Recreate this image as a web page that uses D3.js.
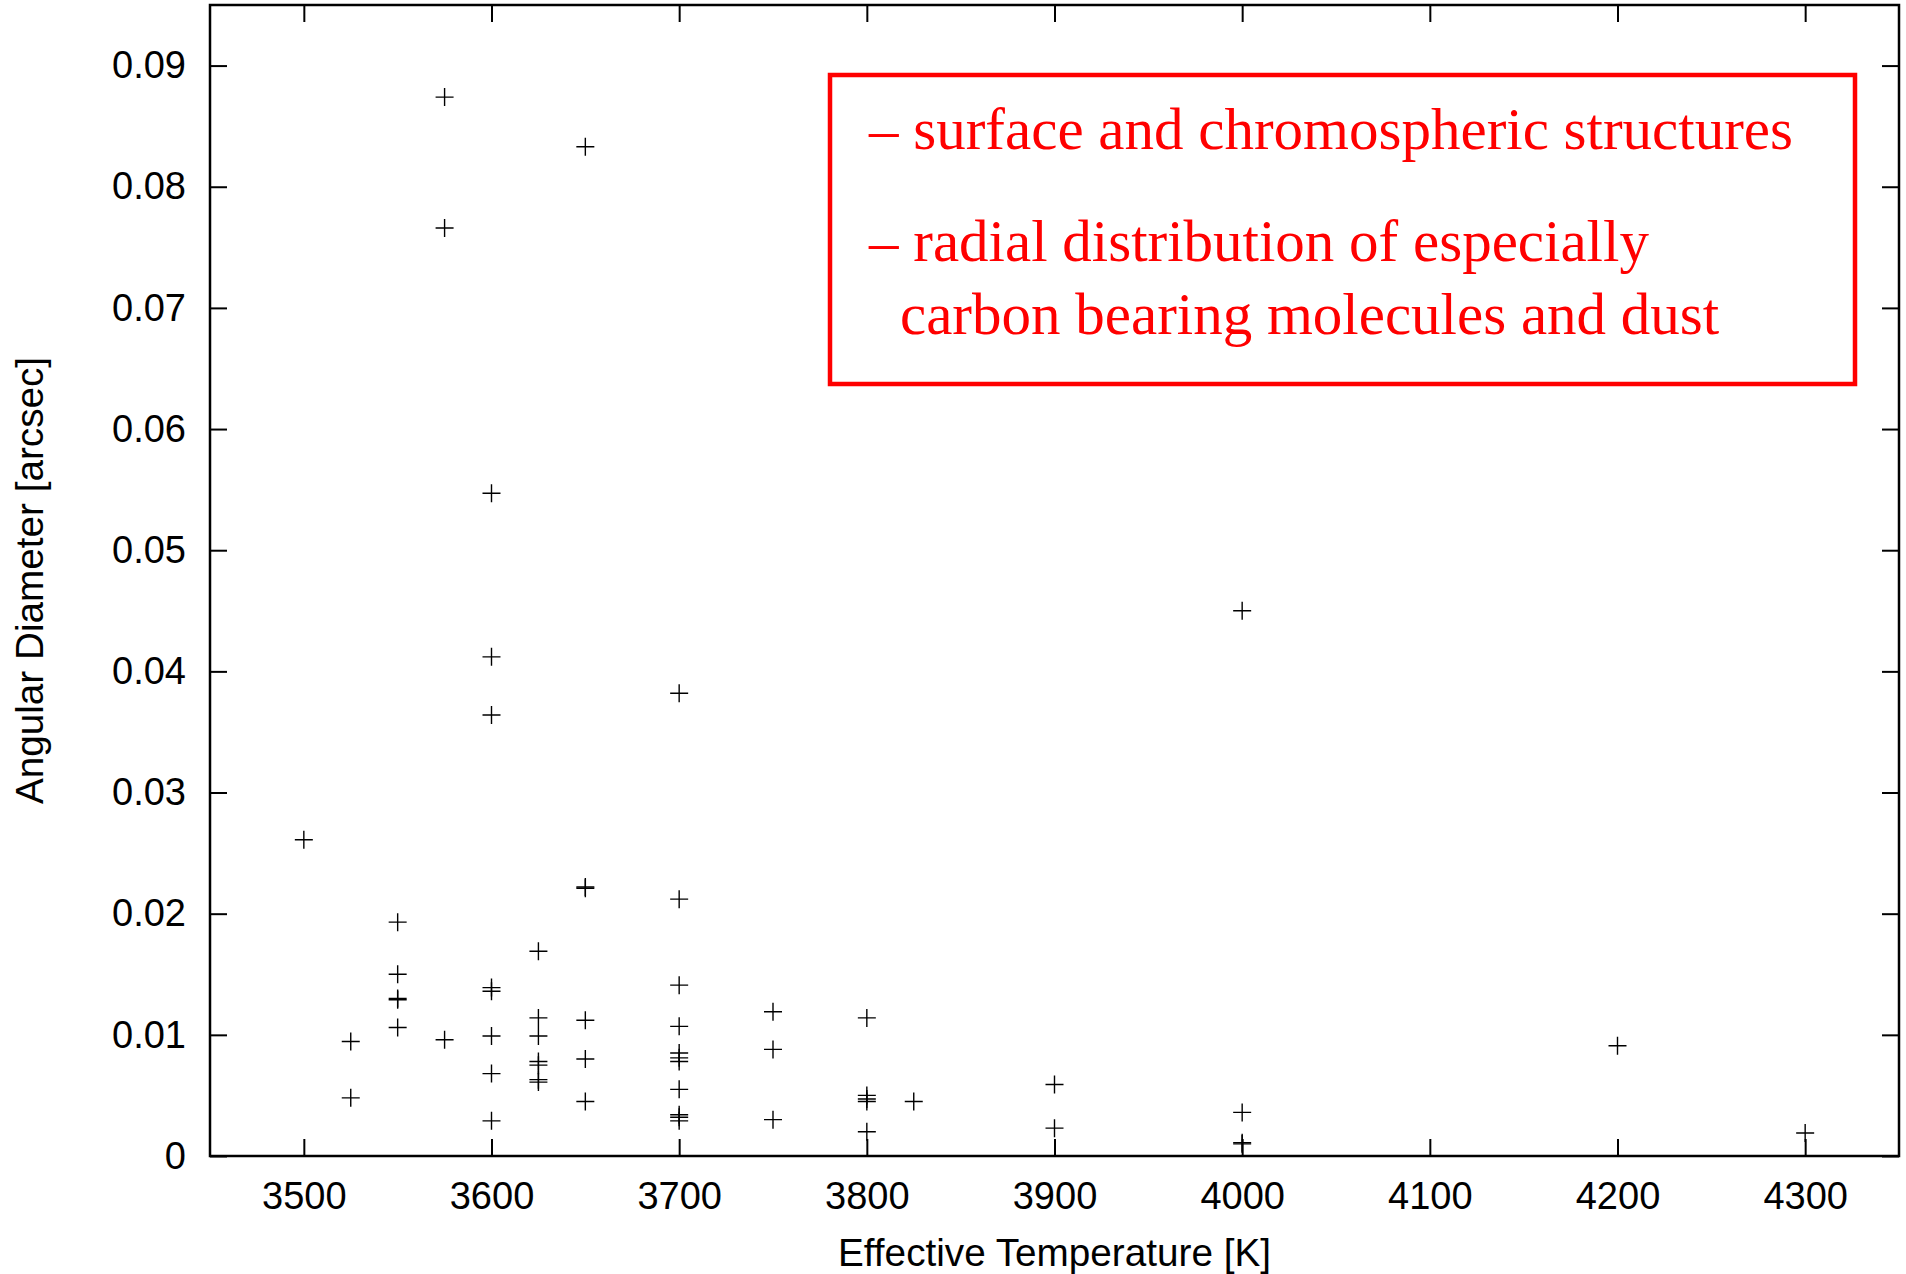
<!DOCTYPE html>
<html>
<head>
<meta charset="utf-8">
<script src="https://cdn.jsdelivr.net/npm/d3@7"></script>
<style>
    body { margin: 0; background: #fff; }
    svg { display: block; }
    .axis text { font-family: "Liberation Sans", Arial, sans-serif; font-size: 38px; fill: #000; }
    .axis path { display: none; }
    .axis line { stroke: #000; stroke-width: 2; }
    .title { font-family: "Liberation Sans", Arial, sans-serif; font-size: 38.7px; fill: #000; }
    .note { font-family: "Liberation Serif", "Times New Roman", serif; font-size: 59px; fill: #ff0000; }
</style>
</head>
<body>
<div id="wrapper"></div>
<script>
// data: effective temperature [K] and angular diameter [arcsec]
const temperatures = [
    3500,
    3525, 3525,
    3550, 3550, 3550, 3550, 3550,
    3575, 3575, 3575,
    3600, 3600, 3600, 3600, 3600, 3600, 3600, 3600,
    3625, 3625, 3625, 3625, 3625, 3625, 3625,
    3650, 3650, 3650, 3650, 3650, 3650,
    3700, 3700, 3700, 3700, 3700, 3700, 3700, 3700, 3700, 3700, 3700,
    3750, 3750, 3750,
    3800, 3800, 3800, 3800, 3800,
    3825,
    3900, 3900,
    4000, 4000, 4000, 4000,
    4200,
    4300,
]
const diameters = [
    0.0261,
    0.00945, 0.0048,
    0.0193, 0.0150, 0.0130, 0.0129, 0.0106,
    0.0874, 0.0766, 0.0096,
    0.0547, 0.0412, 0.0364, 0.0139, 0.0136, 0.0099, 0.0068, 0.0029,
    0.0169, 0.0114, 0.0099, 0.0078, 0.0075, 0.0063, 0.0061,
    0.0833, 0.0222, 0.0221, 0.0112, 0.0080, 0.0045,
    0.0382, 0.0212, 0.0141, 0.0107, 0.0085, 0.0081, 0.0078, 0.0055, 0.0034, 0.0032, 0.0029,
    0.0119, 0.0088, 0.0030,
    0.0114, 0.0050, 0.0047, 0.0045, 0.0020,
    0.0045,
    0.0059, 0.0023,
    0.0450, 0.0036, 0.0011, 0.0010,
    0.0091,
    0.0019,
]
const xTicks = [3500, 3600, 3700, 3800, 3900, 4000, 4100, 4200, 4300]
const yTicks = [0, 0.01, 0.02, 0.03, 0.04, 0.05, 0.06, 0.07, 0.08, 0.09]
const noteLines = [
    '– surface and chromospheric structures',
    '– radial distribution of especially',
    'carbon bearing molecules and dust',
]

const dataset = temperatures.map((t, i) => ({ t: t, d: diameters[i] }))

// 2. dimensions
let dimensions = {
    width: 1906,
    height: 1274,
    margin: { top: 5, right: 7, bottom: 118, left: 210 },
}
dimensions.boundedWidth = dimensions.width - dimensions.margin.left - dimensions.margin.right
dimensions.boundedHeight = dimensions.height - dimensions.margin.top - dimensions.margin.bottom

// 3. canvas
const wrapper = d3.select('#wrapper')
    .append('svg')
    .attr('width', dimensions.width)
    .attr('height', dimensions.height)

const bounds = wrapper.append('g')
    .attr('transform', `translate(${dimensions.margin.left},${dimensions.margin.top})`)

// 4. scales
const xScale = d3.scaleLinear()
    .domain([3450, 4350])
    .range([0, dimensions.boundedWidth])

const yScale = d3.scaleLinear()
    .domain([0, 0.095])
    .range([dimensions.boundedHeight, 0])

const tickLen = 17

// 6. axes (ticks point inward, mirrored on top and right)
bounds.append('g')
    .attr('class', 'axis')
    .attr('transform', `translate(0,${dimensions.boundedHeight})`)
    .call(d3.axisBottom(xScale).tickValues(xTicks).tickSize(-tickLen).tickPadding(26)
        .tickFormat(d3.format('d')))

bounds.append('g')
    .attr('class', 'axis')
    .call(d3.axisTop(xScale).tickValues(xTicks).tickSize(-tickLen).tickFormat(''))

bounds.append('g')
    .attr('class', 'axis')
    .call(d3.axisLeft(yScale).tickValues(yTicks).tickSize(-tickLen).tickPadding(24)
        .tickFormat(d => d === 0 ? '0' : d3.format('.2f')(d)))

bounds.append('g')
    .attr('class', 'axis')
    .attr('transform', `translate(${dimensions.boundedWidth},0)`)
    .call(d3.axisRight(yScale).tickValues(yTicks).tickSize(-tickLen).tickFormat(''))

bounds.append('rect')
    .attr('width', dimensions.boundedWidth)
    .attr('height', dimensions.boundedHeight)
    .attr('fill', 'none')
    .attr('stroke', '#000')
    .attr('stroke-width', 2.5)

// 5. points as gnuplot style "+"
const half = 9
bounds.append('g')
    .selectAll('path')
    .data(dataset)
    .join('path')
    .attr('transform', d => `translate(${xScale(d.t)},${yScale(d.d)})`)
    .attr('d', `M${-half},0H${half}M0,${-half}V${half}`)
    .attr('stroke', '#000')
    .attr('stroke-width', 1.4)
    .attr('fill', 'none')

// axis titles
wrapper.append('text')
    .attr('class', 'title')
    .attr('x', dimensions.margin.left + dimensions.boundedWidth / 2)
    .attr('y', 1266)
    .attr('text-anchor', 'middle')
    .text('Effective Temperature [K]')

wrapper.append('text')
    .attr('class', 'title')
    .attr('transform', `translate(43,${dimensions.margin.top + dimensions.boundedHeight / 2}) rotate(-90)`)
    .attr('text-anchor', 'middle')
    .text('Angular Diameter [arcsec]')

// red note box
const note = wrapper.append('g')
note.append('rect')
    .attr('x', 830)
    .attr('y', 75)
    .attr('width', 1025)
    .attr('height', 309)
    .attr('fill', '#fff')
    .attr('stroke', '#ff0000')
    .attr('stroke-width', 4.5)

const noteX = [869, 869, 900]
const noteY = [149, 261, 334]
note.selectAll('text.note')
    .data(noteLines)
    .join('text')
    .attr('class', 'note')
    .attr('x', (d, i) => noteX[i])
    .attr('y', (d, i) => noteY[i])
    .text(d => d)
</script>
</body>
</html>
